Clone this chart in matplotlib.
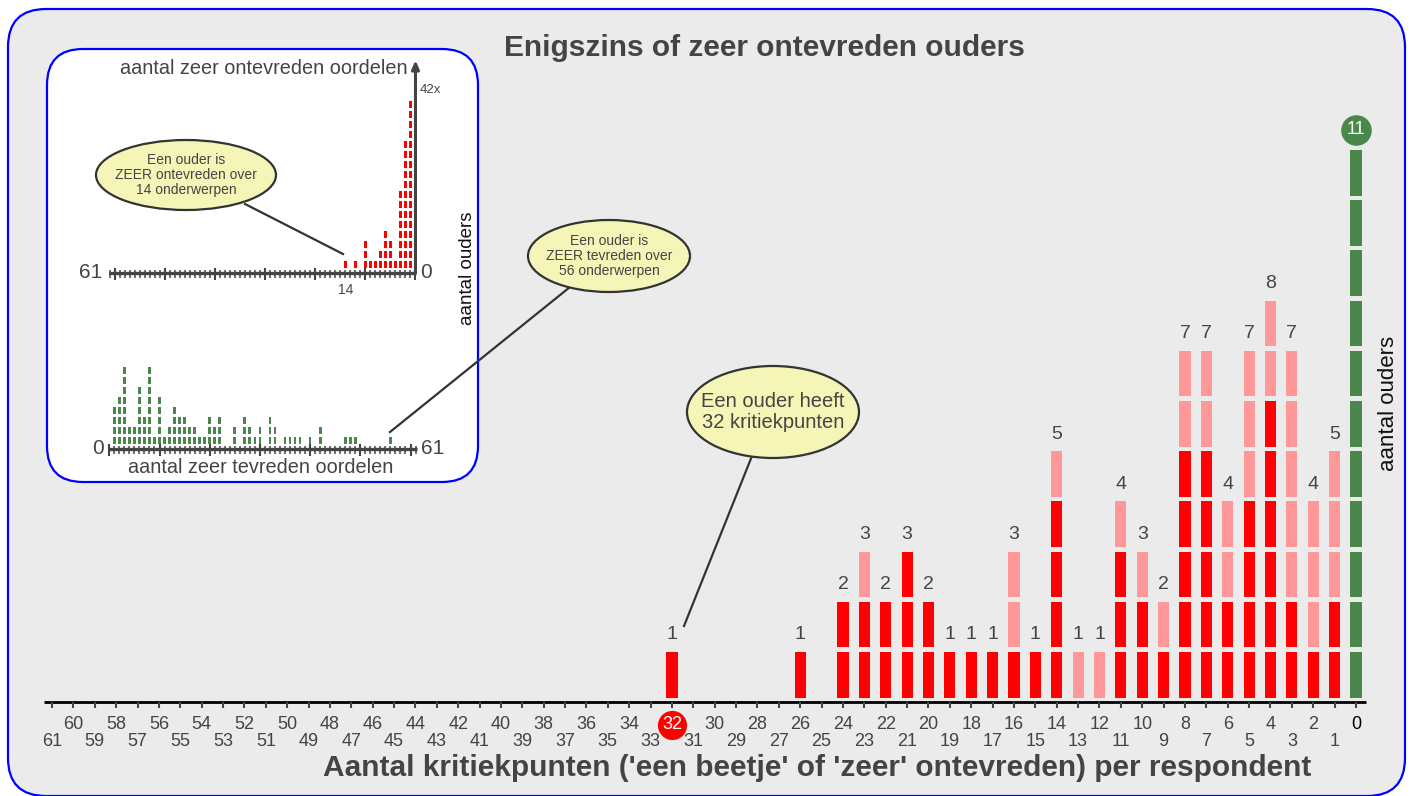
import matplotlib
matplotlib.use('Agg')
import matplotlib.pyplot as plt
from matplotlib.patches import FancyBboxPatch, Ellipse

plt.rcParams['font.family'] = ['Liberation Sans', 'DejaVu Sans']

# hoofdgrafiek: aantal kritiekpunten per respondent -> aantal ouders (rood / roze deel)
kritiek_x = [32, 26, 24, 23, 22, 21, 20, 19, 18, 17, 16, 15, 14, 13, 12, 11, 10, 9, 8, 7, 6, 5, 4, 3, 2, 1]
kritiek_rood = [1, 1, 2, 2, 2, 3, 2, 1, 1, 1, 1, 1, 4, 0, 0, 3, 2, 1, 5, 5, 2, 4, 6, 2, 1, 2]
kritiek_roze = [0, 0, 0, 1, 0, 0, 0, 0, 0, 0, 2, 0, 1, 1, 1, 1, 1, 1, 2, 2, 2, 3, 2, 5, 3, 3]
kritiek_nul = 11
max_kritiek = 61

# inzet boven: aantal zeer ontevreden oordelen
zeer_ontevreden_x = [1, 2, 3, 4, 5, 6, 7, 8, 9, 10, 12, 14]
zeer_ontevreden_n = [17, 13, 8, 1, 3, 4, 2, 1, 1, 3, 1, 1]
zeer_ontevreden_nul = 42

# inzet onder: aantal zeer tevreden oordelen
zeer_tevreden_x = list(range(1, 23)) + [25, 27, 28, 29, 30, 32, 33, 35, 36, 37, 38, 40, 42, 47, 48, 49, 56]
zeer_tevreden_n = [4, 5, 8, 2, 2, 6, 3, 8, 1, 5, 1, 2, 4, 3, 3, 2, 2, 1, 1, 3, 2, 3,
                   2, 3, 2, 1, 2, 3, 2, 1, 1, 1, 1, 1, 2, 1, 1, 1, 1]

ROOD = '#ff0000'
ROZE = '#ff9999'
GROEN = '#4a874a'
GRIJS = '#444444'
BLAUW = '#0000ff'
GEEL = '#f5f5b7'

W, H = 1412, 796
fig = plt.figure(figsize=(W / 100, H / 100), dpi=100)


def add_px_axes(x0, y0, x1, y1, zorder):
    ax = fig.add_axes([x0 / W, 1 - y1 / H, (x1 - x0) / W, (y1 - y0) / H], zorder=zorder)
    ax.set_axis_off()
    return ax


# achtergrond en kaders
bg = add_px_axes(0, 0, W, H, 0)
bg.set_xlim(0, W)
bg.set_ylim(H, 0)
bg.add_patch(FancyBboxPatch((8, 9), 1397, 787, boxstyle='round,pad=0,rounding_size=38',
                            fc='#ebebeb', ec=BLAUW, lw=1.6))
bg.add_patch(FancyBboxPatch((47, 49), 431, 433, boxstyle='round,pad=0,rounding_size=36',
                            fc='white', ec=BLAUW, lw=1.6))

# hoofdgrafiek
main = add_px_axes(20, 100, 1392, 790, 1)
main.set_xlim(62.5, -1.684)
main.set_ylim(-1.839, 11.906)

seg_x, seg_bottom, seg_color = [], [], []
for x, r, p in zip(kritiek_x, kritiek_rood, kritiek_roze):
    for k in range(r + p):
        seg_x.append(x)
        seg_bottom.append(k)
        seg_color.append(ROOD if k < r else ROZE)
for k in range(kritiek_nul):
    seg_x.append(0)
    seg_bottom.append(k)
    seg_color.append(GROEN)
main.bar(seg_x, 0.91, bottom=seg_bottom, width=0.52, color=seg_color, linewidth=0)

for x, r, p in zip(kritiek_x, kritiek_rood, kritiek_roze):
    main.text(x, r + p + 0.25, str(r + p), ha='center', va='center', fontsize=14, color=GRIJS)

main.plot(0, 11.31, 'o', ms=21, color=GROEN, clip_on=False)
main.text(0, 11.31, str(kritiek_nul), ha='center', va='center', fontsize=13, color='white')

main.plot([max_kritiek + 0.37, -0.47], [-0.086, -0.086], color='black', lw=2, solid_capstyle='butt')
main.vlines(range(max_kritiek + 1), -0.086, -0.2, color=GRIJS, lw=1.5)
for v in range(max_kritiek + 1):
    y = -0.544 if v % 2 == 0 else -0.882
    if v == 32:
        main.plot(v, y, 'o', ms=20, color=ROOD)
        main.text(v, y, str(v), ha='center', va='center', fontsize=13, color='white')
    else:
        main.text(v, y, str(v), ha='center', va='center', fontsize=13,
                  color='black' if v == 0 else GRIJS)

fig.text(764 / W, 1 - 48 / H, 'Enigszins of zeer ontevreden ouders', ha='center', va='center',
         fontsize=21.5, fontweight='bold', color=GRIJS)
fig.text(817 / W, 1 - 768 / H, "Aantal kritiekpunten ('een beetje' of 'zeer' ontevreden) per respondent",
         ha='center', va='center', fontsize=21.5, fontweight='bold', color=GRIJS)
fig.text(1388 / W, 1 - 403 / H, 'aantal ouders', rotation=90, ha='center', va='center',
         fontsize=16, color='#111111')

# inzet boven: zeer ontevreden
boven = add_px_axes(60, 55, 470, 300, 2)
boven.set_xlim(70.87, -10.87)
boven.set_ylim(-3.17, 21.33)
bx, bb = [], []
for x, n in zip(zeer_ontevreden_x, zeer_ontevreden_n):
    for k in range(n):
        bx.append(x)
        bb.append(k)
boven.bar(bx, 0.7, bottom=bb, width=0.5, color=ROOD, linewidth=0)
boven.plot([max_kritiek + 0.2, -0.2], [-0.47, -0.47], color=GRIJS, lw=2.4, solid_capstyle='butt')
boven.vlines(range(max_kritiek + 1), -0.15, -1.0, color=GRIJS, lw=1.1)
boven.vlines(range(0, max_kritiek + 1, 10), 0.05, -1.15, color=GRIJS, lw=1.5)
boven.annotate('', xy=(0, 20.8), xytext=(0, -0.47),
               arrowprops=dict(arrowstyle='-|>,head_length=0.5,head_width=0.22', lw=2.2,
                               color=GRIJS, shrinkA=0, shrinkB=0))
boven.text(62.4, -0.47, str(max_kritiek), ha='right', va='center', fontsize=15, color=GRIJS)
boven.text(-1.0, -0.47, '0', ha='left', va='center', fontsize=15, color=GRIJS)
boven.text(14, -2.2, '14', ha='center', va='center', fontsize=10, color=GRIJS)
boven.text(-0.9, 17.8, f'{zeer_ontevreden_nul}x', ha='left', va='center', fontsize=9.5, color=GRIJS)
boven.text(1.6, 20.0, 'aantal zeer ontevreden oordelen', ha='right', va='center',
           fontsize=14.3, color=GRIJS)

# inzet onder: zeer tevreden
onder = add_px_axes(60, 340, 470, 480, 2)
onder.set_xlim(-9.82, 71.85)
onder.set_ylim(-3.57, 10.43)
ox, ob = [], []
for x, n in zip(zeer_tevreden_x, zeer_tevreden_n):
    for k in range(n):
        ox.append(x)
        ob.append(k)
onder.bar(ox, 0.74, bottom=ob, width=0.55, color=GROEN, linewidth=0)
onder.plot([-0.2, max_kritiek + 0.2], [-0.47, -0.47], color=GRIJS, lw=2.4, solid_capstyle='butt')
onder.vlines(range(max_kritiek + 1), -0.15, -1.0, color=GRIJS, lw=1.1)
onder.vlines(range(0, max_kritiek + 1, 10), 0.05, -1.15, color=GRIJS, lw=1.5)
onder.text(-1.0, -0.47, '0', ha='right', va='center', fontsize=15, color=GRIJS)
onder.text(62.0, -0.47, str(max_kritiek), ha='left', va='center', fontsize=15, color=GRIJS)
onder.text(30.2, -2.37, 'aantal zeer tevreden oordelen', ha='center', va='center',
           fontsize=14.3, color=GRIJS)

fig.text(467 / W, 1 - 268 / H, 'aantal ouders', rotation=90, ha='center', va='center',
         fontsize=13.5, color='#111111')

# toelichtingen
deco = add_px_axes(0, 0, W, H, 3)
deco.set_xlim(0, W)
deco.set_ylim(H, 0)
callouts = [
    ((773, 412), 172, 92, 'Een ouder heeft\n32 kritiekpunten', 14.5, (752, 456), (684, 626)),
    ((186, 175), 180, 70, 'Een ouder is\nZEER ontevreden over\n14 onderwerpen', 10, (245, 204), (343, 254)),
    ((609, 256), 162, 72, 'Een ouder is\nZEER tevreden over\n56 onderwerpen', 10, (570, 287), (390, 432)),
]
for (cx, cy), w, h, txt, fs, p0, p1 in callouts:
    deco.plot([p0[0], p1[0]], [p0[1], p1[1]], color='#333333', lw=1.6, zorder=1)
    deco.add_patch(Ellipse((cx, cy), w, h, fc=GEEL, ec='#333333', lw=1.6, zorder=2))
    deco.text(cx, cy, txt, ha='center', va='center', fontsize=fs, color=GRIJS,
              linespacing=1.1, zorder=3)

fig.savefig('out.png', dpi=100)
